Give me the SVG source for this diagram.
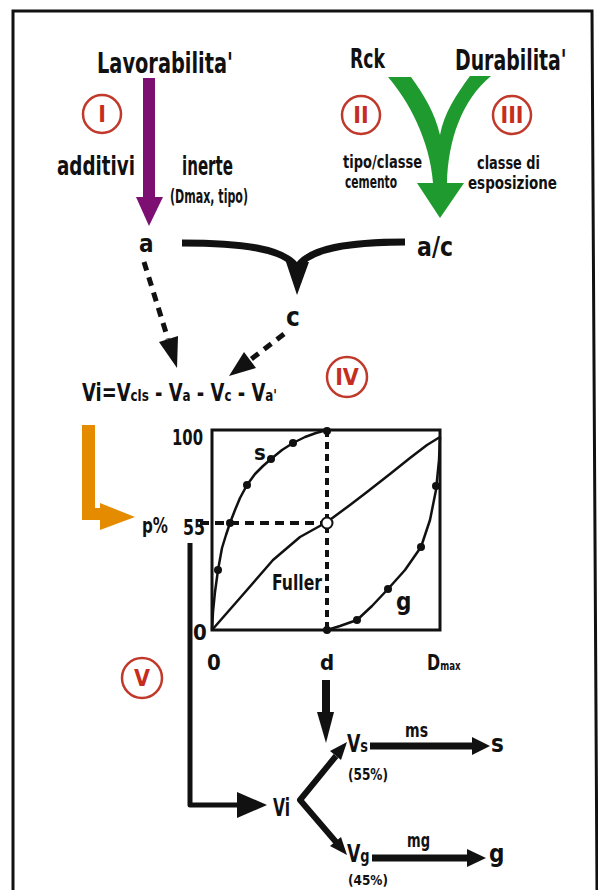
<svg xmlns="http://www.w3.org/2000/svg" width="598" height="890" viewBox="0 0 598 890">
<style>
.t{font-family:"DejaVu Sans Condensed","DejaVu Sans",sans-serif;font-weight:bold;fill:#111}
.r{font-family:"DejaVu Sans Condensed","DejaVu Sans",sans-serif;font-weight:bold;fill:#c62d1f;text-anchor:middle;font-size:23px}
.rc{fill:none;stroke:#c0392b;stroke-width:2.5}
.dash{stroke:#111;stroke-width:5;stroke-dasharray:9 7;fill:none}
.ln{stroke:#111;fill:none;stroke-linejoin:round}
.ah{fill:#111}
.dot{fill:#111}
</style>
<rect width="598" height="890" fill="#fff"/>
<polyline points="13,890 13,11 592,11 597,890" fill="none" stroke="#111" stroke-width="3"/>

<g id="connectors">
  <rect x="143" y="78" width="12" height="120" fill="#7d0f72"/>
  <polygon points="136,197 163,197 149,226" fill="#7d0f72"/>
  <path d="M388,77 C408,100 430,140 433,183 L417,183 L440,218 L464,183 L447,183 C448,140 462,100 491,76 L470,76 C456,95 444,113 440,135 C435,113 424,95 411,77 Z" fill="#1f9a2e"/>
  <path class="ln" stroke-width="7" d="M182,243 C240,243 285,248 297,268"/>
  <path class="ln" stroke-width="7" d="M405,242 C350,242 308,248 297,268"/>
  <polygon class="ah" points="286,262 309,262 297,295"/>
  <line class="dash" x1="144" y1="262" x2="168" y2="339"/>
  <polygon class="ah" points="178,336 159,342 177,368"/>
  <line class="dash" x1="284" y1="334" x2="250" y2="360"/>
  <polygon class="ah" points="256,368 244,352 229,376"/>
  <path d="M82,425 H95 V508 H100 V503 L135,517 L100,530 V520 H82 Z" fill="#e58b00"/>
  <polyline class="ln" stroke-width="5" points="190,543 190,805 240,805"/>
  <polygon class="ah" points="237,792 267,805 237,818"/>
  <rect x="322" y="680" width="8" height="34" fill="#111"/>
  <polygon class="ah" points="317,712 334,712 326,743"/>
  <polyline class="ln" stroke-width="6" points="336,756 300,800 336,842"/>
  <polygon class="ah" points="341,760 330,751 347,742"/>
  <polygon class="ah" points="341,837 330,846 347,855"/>
  <line class="ln" stroke-width="7" x1="370" y1="746" x2="475" y2="746"/>
  <polygon class="ah" points="472,737 490,746 472,755"/>
  <line class="ln" stroke-width="7" x1="372" y1="858" x2="470" y2="858"/>
  <polygon class="ah" points="467,849 486,858 467,867"/>
</g>

<g id="n-lavorabilita"><text class="t" x="97" y="73" font-size="28" textLength="136" lengthAdjust="spacingAndGlyphs">Lavorabilita'</text></g>
<g id="n-rck"><text class="t" x="350" y="68" font-size="26" textLength="35" lengthAdjust="spacingAndGlyphs">Rck</text></g>
<g id="n-durabilita"><text class="t" transform="translate(455,70) scale(0.75,1)" x="0" y="0" font-size="28">Durabilita'</text></g>

<g id="step-I">
  <circle class="rc" cx="102" cy="114" r="19"/>
  <text class="r" x="102" y="122">I</text>
  <text class="t" x="57" y="175" font-size="26" textLength="78" lengthAdjust="spacingAndGlyphs">additivi</text>
  <text class="t" x="182" y="175" font-size="26" textLength="51" lengthAdjust="spacingAndGlyphs">inerte</text>
  <text class="t" x="170" y="203" font-size="19" textLength="78" lengthAdjust="spacingAndGlyphs">(Dmax, tipo)</text>
</g>
<g id="step-II">
  <circle class="rc" cx="361" cy="115" r="19"/>
  <text class="r" x="361" y="123">II</text>
  <text class="t" x="343" y="168" font-size="17" textLength="79" lengthAdjust="spacingAndGlyphs">tipo/classe</text>
  <text class="t" x="345" y="188" font-size="17" textLength="52" lengthAdjust="spacingAndGlyphs">cemento</text>
</g>
<g id="step-III">
  <circle class="rc" cx="512" cy="115" r="19"/>
  <text class="r" x="512" y="123">III</text>
  <text class="t" x="477" y="169" font-size="17" textLength="63" lengthAdjust="spacingAndGlyphs">classe di</text>
  <text class="t" x="468" y="189" font-size="17" textLength="89" lengthAdjust="spacingAndGlyphs">esposizione</text>
</g>

<g id="n-a"><text class="t" x="139" y="252" font-size="24">a</text></g>
<g id="n-ac"><text class="t" x="417" y="256" font-size="26" textLength="36" lengthAdjust="spacingAndGlyphs">a/c</text></g>
<g id="n-c"><text class="t" x="286" y="326" font-size="26">c</text></g>

<g id="n-vi-eq">
  <text class="t" transform="translate(82,401) scale(0.83,1)" x="0" y="0" font-size="24">Vi=V<tspan font-size="16">cls</tspan> - V<tspan font-size="16">a</tspan> - V<tspan font-size="16">c</tspan> - V<tspan font-size="16">a'</tspan></text>
</g>
<g id="step-IV">
  <circle class="rc" cx="347" cy="377" r="20"/>
  <text class="r" x="347" y="385">IV</text>
</g>

<g id="n-graph">
  <rect x="212" y="430" width="228" height="200" fill="none" stroke="#111" stroke-width="3"/>
  <line x1="327" y1="430" x2="327" y2="630" stroke="#111" stroke-width="4" stroke-dasharray="7 5"/>
  <line x1="200" y1="523" x2="322" y2="523" stroke="#111" stroke-width="4" stroke-dasharray="9 6"/>
  <polyline class="ln" stroke-width="2.5" points="212,630 213,612 215,592 218,570 222,548 226,535 230,523 235,510 240,498 247,485 255,474 263,466 271,459 282,450 293,443 305,437 316,433 327,430"/>
  <polyline class="ln" stroke-width="2.5" points="212,630 240,598 273,560 300,537 327,522 350,505 367,492 390,474 410,458 427,445 440,437"/>
  <polyline class="ln" stroke-width="2.5" points="327,630 340,626 357,620 372,606 388,589 405,570 421,547 430,520 436,490 439,460 440,437"/>
  <circle class="dot" cx="218" cy="570" r="4"/>
  <circle class="dot" cx="230" cy="523" r="4"/>
  <circle class="dot" cx="247" cy="485" r="4"/>
  <circle class="dot" cx="271" cy="459" r="4"/>
  <circle class="dot" cx="293" cy="443" r="4"/>
  <circle class="dot" cx="327" cy="431" r="4"/>
  <circle class="dot" cx="327" cy="630" r="4"/>
  <circle class="dot" cx="357" cy="620" r="4"/>
  <circle class="dot" cx="388" cy="589" r="4"/>
  <circle class="dot" cx="421" cy="547" r="4"/>
  <circle class="dot" cx="436" cy="486" r="4"/>
  <circle cx="327" cy="523" r="5.5" fill="#fff" stroke="#111" stroke-width="2"/>
  <text class="t" x="172" y="445" font-size="22" textLength="31" lengthAdjust="spacingAndGlyphs">100</text>
  <text class="t" x="142" y="533" font-size="22" textLength="26" lengthAdjust="spacingAndGlyphs">p%</text>
  <text class="t" x="183" y="535" font-size="22" textLength="22" lengthAdjust="spacingAndGlyphs">55</text>
  <text class="t" x="193" y="640" font-size="22">0</text>
  <text class="t" x="207" y="670" font-size="22">0</text>
  <text class="t" x="320" y="670" font-size="22">d</text>
  <text class="t" transform="translate(427,670) scale(0.8,1)" x="0" y="0" font-size="22">D<tspan font-size="12">max</tspan></text>
  <text class="t" x="254" y="460" font-size="22">s</text>
  <text class="t" x="272" y="590" font-size="22" textLength="50" lengthAdjust="spacingAndGlyphs">Fuller</text>
  <text class="t" x="396" y="610" font-size="24">g</text>
</g>

<g id="step-V">
  <circle class="rc" cx="142" cy="678" r="20"/>
  <text class="r" x="142" y="686">V</text>
</g>

<g id="n-vi"><text class="t" x="273" y="816" font-size="24" textLength="17" lengthAdjust="spacingAndGlyphs">Vi</text></g>
<g id="n-vs">
  <text class="t" transform="translate(347,752) scale(0.8,1)" x="0" y="0" font-size="24">V<tspan font-size="18">s</tspan></text>
  <text class="t" x="348" y="780" font-size="15" textLength="40" lengthAdjust="spacingAndGlyphs">(55%)</text>
</g>
<g id="n-vg">
  <text class="t" transform="translate(347,862) scale(0.8,1)" x="0" y="0" font-size="24">V<tspan font-size="18">g</tspan></text>
  <text class="t" x="348" y="885" font-size="14" textLength="40" lengthAdjust="spacingAndGlyphs">(45%)</text>
</g>
<g id="n-s">
  <text class="t" x="405" y="737" font-size="20" textLength="23" lengthAdjust="spacingAndGlyphs">ms</text>
  <text class="t" x="491" y="752" font-size="24">s</text>
</g>
<g id="n-g">
  <text class="t" x="407" y="847" font-size="20" textLength="23" lengthAdjust="spacingAndGlyphs">mg</text>
  <text class="t" x="489" y="862" font-size="24">g</text>
</g>
</svg>
